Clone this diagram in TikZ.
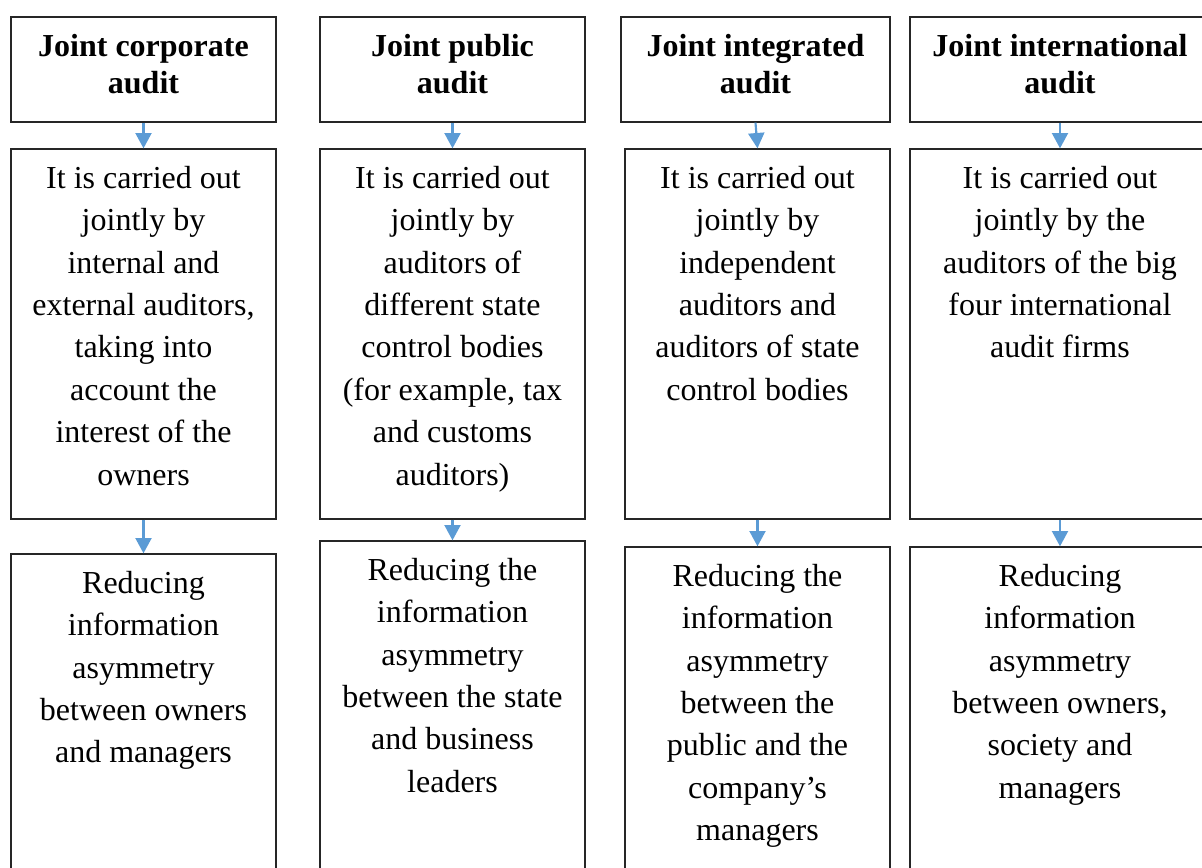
\documentclass[tikz,border=0pt]{standalone}
\usepackage{fontspec}
\setmainfont{Liberation Serif}
\usetikzlibrary{fit,arrows.meta}
\definecolor{flowblue}{HTML}{5B9BD5}
\tikzset{
  box/.style={draw=black!85, line width=1pt, inner sep=0pt},
  head/.style={font=\bfseries\fontsize{24}{27.8}\selectfont, text width=220pt, align=flush center, anchor=base, inner sep=0pt},
  body/.style={font=\fontsize{24}{31.8}\selectfont, text width=220pt, align=flush center, anchor=base, inner sep=0pt},
  flow/.style={draw=flowblue, line width=1.6pt, -{Triangle[width=12pt,length=11.5pt]}},
}
\begin{document}
\begin{tikzpicture}[x=0.75pt, y=-0.75pt]
\useasboundingbox (0,0) rectangle (1202,867);
\clip (0,0) rectangle (1202,867);

% corporate
\node[box, fit={(11,17) (276,122)}] (corph) {};
\node[box, fit={(11,149) (276,519)}] (corpm) {};
\node[box, fit={(11,554) (276,890)}] (corpb) {};
\node[head] (corpht) at ([yshift=-30pt]corph.north) {Joint corporate\\audit};
\node[body] (corpmt) at ([yshift=-30pt]corpm.north) {It is carried out\\jointly by\\internal and\\external auditors,\\taking into\\account the\\interest of the\\owners};
\node[body] (corpbt) at ([yshift=-30pt]corpb.north) {Reducing\\information\\asymmetry\\between owners\\and managers};
\draw[flow] (corph.south) -- (corpm.north);
\draw[flow] (corpm.south) -- (corpb.north);

% public
\node[box, fit={(320,17) (585,122)}] (pubh) {};
\node[box, fit={(320,149) (585,519)}] (pubm) {};
\node[box, fit={(320,541) (585,890)}] (pubb) {};
\node[head] (pubht) at ([yshift=-30pt]pubh.north) {Joint public\\audit};
\node[body] (pubmt) at ([yshift=-30pt]pubm.north) {It is carried out\\jointly by\\auditors of\\different state\\control bodies\\(for example, tax\\and customs\\auditors)};
\node[body] (pubbt) at ([yshift=-30pt]pubb.north) {Reducing the\\information\\asymmetry\\between the state\\and business\\leaders};
\draw[flow] (pubh.south) -- (pubm.north);
\draw[flow] (pubm.south) -- (pubb.north);

% integrated
\node[box, fit={(621,17) (890,122)}] (integh) {};
\node[box, fit={(625,149) (890,519)}] (integm) {};
\node[box, fit={(625,547) (890,890)}] (integb) {};
\node[head] (integht) at ([yshift=-30pt]integh.north) {Joint integrated\\audit};
\node[body] (integmt) at ([yshift=-30pt]integm.north) {It is carried out\\jointly by\\independent\\auditors and\\auditors of state\\control bodies};
\node[body] (integbt) at ([yshift=-30pt]integb.north) {Reducing the\\information\\asymmetry\\between the\\public and the\\company’s\\managers};
\draw[flow] (integh.south) -- (integm.north);
\draw[flow] (integm.south) -- (integb.north);

% international
\node[box, fit={(910,17) (1210,122)}] (intlh) {};
\node[box, fit={(910,149) (1210,519)}] (intlm) {};
\node[box, fit={(910,547) (1210,890)}] (intlb) {};
\node[head] (intlht) at ([yshift=-30pt]intlh.north) {Joint international\\audit};
\node[body] (intlmt) at ([yshift=-30pt]intlm.north) {It is carried out\\jointly by the\\auditors of the big\\four international\\audit firms};
\node[body] (intlbt) at ([yshift=-30pt]intlb.north) {Reducing\\information\\asymmetry\\between owners,\\society and\\managers};
\draw[flow] (intlh.south) -- (intlm.north);
\draw[flow] (intlm.south) -- (intlb.north);
\end{tikzpicture}
\end{document}
